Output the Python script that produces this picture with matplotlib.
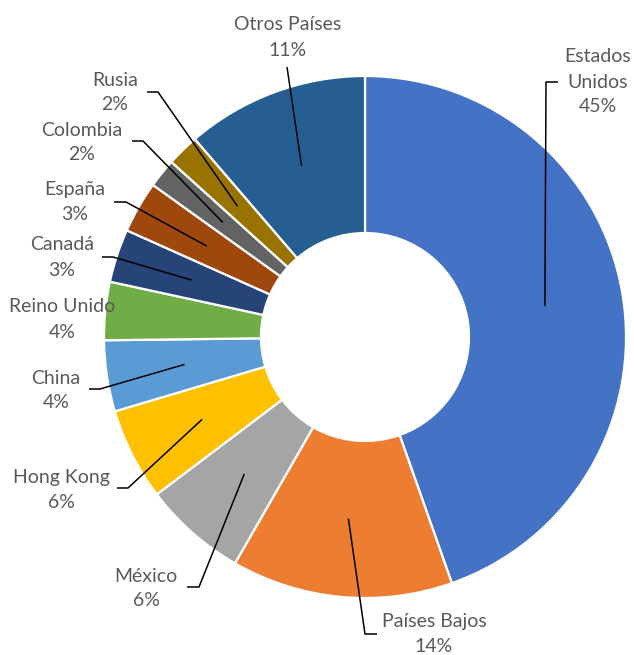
import numpy as np
import matplotlib.pyplot as plt

# ---------- data ----------
countries = ["Estados\nUnidos", "Países Bajos", "México", "Hong Kong", "China",
             "Reino Unido", "Canadá", "España", "Colombia", "Rusia", "Otros Países"]
shares = [44.6, 13.7, 6.4, 5.7, 4.4, 3.6, 3.3, 3.2, 1.8, 2.0, 11.3]
colors = ["#4472C4", "#ED7D31", "#A5A5A5", "#FFC000", "#5B9BD5", "#70AD47",
          "#264478", "#9E480E", "#636363", "#997300", "#255E91"]

# ---------- layout (pixel coords, y down) ----------
W, H = 634, 655
CX, CY = 365, 337
R_OUT, R_IN = 261, 104
# label centre (x, y of first line), leader elbow (x, y), elbow end x  (None = no leader)
layout = {
    "Estados\nUnidos": ((598, 57), (546, 82), 558),
    "Países Bajos":    ((434, 621), (365, 634), 377),
    "México":          ((146, 576), (199, 587), 187),
    "Hong Kong":       ((61, 478), (128, 488), 117),
    "China":           ((56, 378), (100, 389), 89),
    "Reino Unido":     ((62, 307), None, None),
    "Canadá":          ((62, 245), (113, 257), 102),
    "España":          ((75, 190), (126, 202), 114),
    "Colombia":        ((82, 130), (143, 141), 132),
    "Rusia":           ((115, 80), (158, 92), 147),
    "Otros Países":    ((288, 25), (287, 67), None),
}
LINE_H = 25


def fy(y):
    return H - y


fig = plt.figure(figsize=(W / 100, H / 100), dpi=100)
ax = fig.add_axes([0, 0, 1, 1])

wedges, _ = ax.pie(shares, colors=colors, startangle=90, counterclock=False,
                   radius=R_OUT, center=(CX, fy(CY)),
                   wedgeprops=dict(width=R_OUT - R_IN, edgecolor="white", linewidth=1.6))

ax.set_xlim(0, W)
ax.set_ylim(0, H)
ax.set_aspect("equal")
ax.axis("off")

txt_color = "#595959"
r_mid = (R_OUT + R_IN) / 2
for w, name, val in zip(wedges, countries, shares):
    (lx, ly), elbow, end_x = layout[name]
    lines = name.split("\n") + [f"{round(val):d}%"]
    for i, s in enumerate(lines):
        ax.text(lx, fy(ly + i * LINE_H), s, ha="center", va="center",
                fontsize=14, color=txt_color, family="Lato")
    if elbow is None:
        continue
    ang = np.deg2rad((w.theta1 + w.theta2) / 2)
    sx = CX + r_mid * np.cos(ang)
    sy = fy(CY) + r_mid * np.sin(ang)
    xs = [sx, elbow[0]]
    ys = [sy, fy(elbow[1])]
    if end_x is not None:
        xs.append(end_x)
        ys.append(fy(elbow[1]))
    ax.plot(xs, ys, color="black", lw=1.1, solid_capstyle="butt")

fig.savefig("out.png", dpi=100)
